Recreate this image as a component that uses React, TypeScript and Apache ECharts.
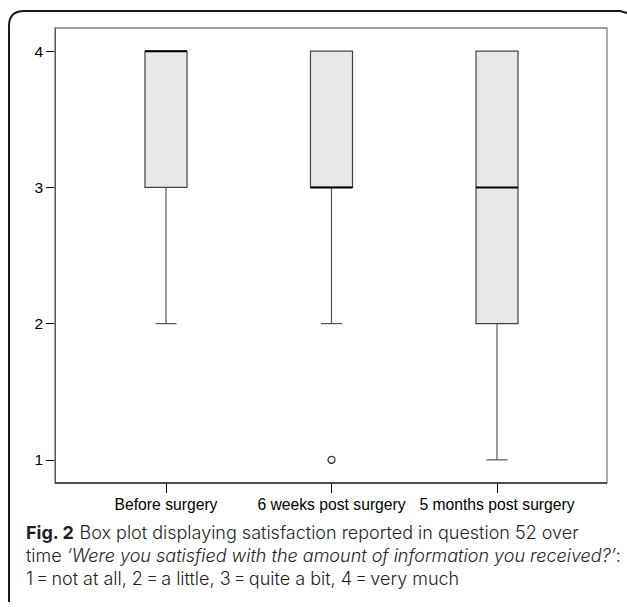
import React, { useEffect, useRef } from "react";
import * as echarts from "echarts";

const categories = ["Before surgery", "6 weeks post surgery", "5 months post surgery"];
// [min, Q1, median, Q3, max]
const boxValues = [
  [2, 3, 4, 4, 4],
  [2, 3, 3, 4, 4],
  [1, 2, 3, 4, 4],
];
const outliers = [[1, 1]]; // [category index, value]
const yTicks = [1, 2, 3, 4];
const captionLines = [
  "{b|Fig. 2} Box plot displaying satisfaction reported in question 52 over",
  "time {i|\u2018Were you satisfied with the amount of information you received?\u2019}:",
  "1\u2009=\u2009not at all, 2\u2009=\u2009a little, 3\u2009=\u2009quite a bit, 4\u2009=\u2009very much",
];

const FRAME_D = "M 9 602 L 9 26 Q 9 11 24 11 L 620 11 L 627 13";
echarts.graphic.registerShape("outerFrame", echarts.graphic.extendPath(FRAME_D, {}));

export default function App() {
  const ref = useRef<HTMLDivElement>(null);
  useEffect(() => {
    document.body.style.margin = "0";
    if (!ref.current) return;
    const chart = echarts.init(ref.current, null, { renderer: "svg" });
    const capFont = "Inter, 'Open Sans', sans-serif";
    const capSize = 18;
    const lh = 23;
    const option: any = {
      animation: false,
      grid: { left: 83.25, right: 47.25, top: 28, bottom: 124 },
      xAxis: {
        type: "category",
        data: categories,
        boundaryGap: true,
        axisLine: { show: false },
        axisTick: { show: true, alignWithLabel: true, length: 10, lineStyle: { color: "#000", width: 1 } },
        axisLabel: { interval: 0, hideOverlap: false, margin: 13, fontSize: 15.7, color: "#000", fontFamily: "'Liberation Sans', Arial, sans-serif" },
        splitLine: { show: false },
      },
      yAxis: {
        type: "value",
        min: 0.83,
        max: 4.17,
        offset: 28.25,
        axisLine: { show: true, lineStyle: { color: "#000", width: 1 } },
        axisTick: { show: true, length: 9, customValues: yTicks, lineStyle: { color: "#000" } },
        axisLabel: { show: true, customValues: yTicks, margin: 12, fontSize: 15.5, color: "#000", fontFamily: "'Liberation Sans', Arial, sans-serif" },
        splitLine: { show: false },
      },
      graphic: [
        { type: "outerFrame", shape: {}, style: { stroke: "#1a1a1a", fill: "none", lineWidth: 2 }, z: 10 },
        { type: "rect", shape: { x: 55, y: 28, width: 552, height: 455 }, style: { stroke: "#808080", fill: "none", lineWidth: 1.3 }, z: 10 },
        { type: "line", shape: { x1: 55, y1: 483, x2: 607, y2: 483 }, style: { stroke: "#000", lineWidth: 1 }, z: 11 },
        ...captionLines.map((t, i) => ({
          type: "text",
          left: 26,
          top: 521 + i * 23,
          style: {
            text: t,
            fontSize: capSize,
            lineHeight: lh,
            fontFamily: capFont,
            fontWeight: 300,
            fill: "#231f20",
            rich: {
              b: { fontSize: capSize, lineHeight: lh, fontWeight: "bold", fontFamily: capFont, fill: "#231f20" },
              i: { fontSize: capSize, lineHeight: lh, fontStyle: "italic", fontWeight: 300, fontFamily: capFont, fill: "#231f20" },
            },
          },
          z: 10,
        })),
      ],
      series: [
        {
          type: "custom",
          data: boxValues.map((v, i) => [i, ...v]),
          encode: { x: 0, y: [1, 2, 3, 4, 5] },
          renderItem: (params: any, api: any) => {
            const idx = api.value(0);
            const vals = [1, 2, 3, 4, 5].map((k) => api.value(k));
            const pMin = api.coord([idx, vals[0]]);
            const pQ1 = api.coord([idx, vals[1]]);
            const pMed = api.coord([idx, vals[2]]);
            const pQ3 = api.coord([idx, vals[3]]);
            const pMax = api.coord([idx, vals[4]]);
            const band = api.size([1, 0])[0];
            const bw = band * 0.254;
            const cx = pMed[0];
            const cap = bw / 4;
            const gray = "#555";
            const children: any[] = [];
            if (pMin[1] !== pQ1[1]) {
              children.push({ type: "line", shape: { x1: cx, y1: pQ1[1], x2: cx, y2: pMin[1] }, style: { stroke: gray, lineWidth: 1.2 } });
              children.push({ type: "line", shape: { x1: cx - cap, y1: pMin[1], x2: cx + cap, y2: pMin[1] }, style: { stroke: gray, lineWidth: 1.2 } });
            }
            if (pMax[1] !== pQ3[1]) {
              children.push({ type: "line", shape: { x1: cx, y1: pQ3[1], x2: cx, y2: pMax[1] }, style: { stroke: gray, lineWidth: 1.2 } });
              children.push({ type: "line", shape: { x1: cx - cap, y1: pMax[1], x2: cx + cap, y2: pMax[1] }, style: { stroke: gray, lineWidth: 1.2 } });
            }
            children.push({
              type: "rect",
              shape: { x: cx - bw / 2, y: pQ3[1], width: bw, height: pQ1[1] - pQ3[1] },
              style: { fill: "#e8e8e8", stroke: "#444", lineWidth: 1.2 },
            });
            children.push({
              type: "line",
              shape: { x1: cx - bw / 2, y1: pMed[1], x2: cx + bw / 2, y2: pMed[1] },
              style: { stroke: "#000", lineWidth: 2 },
            });
            return { type: "group", children };
          },
          z: 5,
        },
        {
          type: "scatter",
          data: outliers,
          symbol: "circle",
          symbolSize: 7,
          itemStyle: { color: "#fff", borderColor: "#000", borderWidth: 1.3 },
          z: 6,
        },
      ],
    };
    chart.setOption(option);
    return () => chart.dispose();
  }, []);
  return <div ref={ref} style={{ width: 627, height: 607 }} />;
}
